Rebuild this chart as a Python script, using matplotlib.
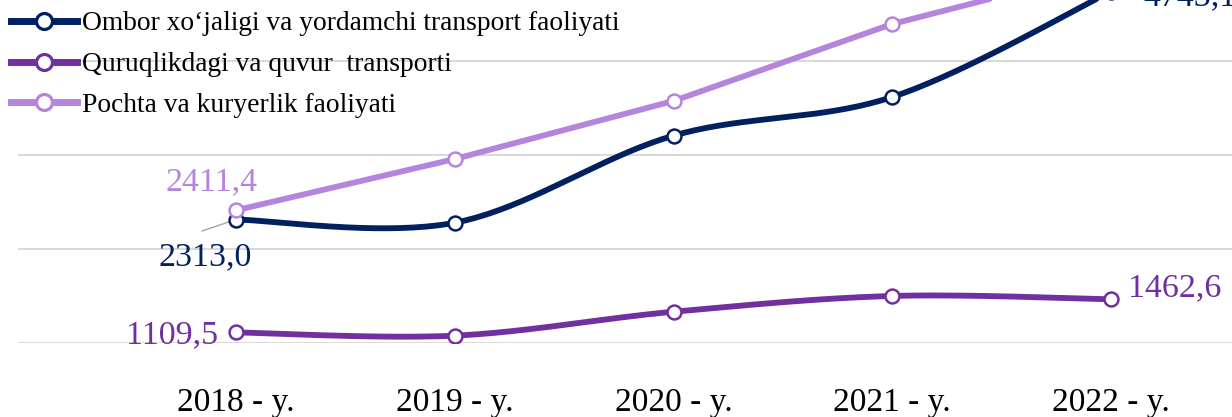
import matplotlib.pyplot as plt
import numpy as np
from matplotlib.lines import Line2D

years = ['2018 - y.', '2019 - y.', '2020 - y.', '2021 - y.', '2022 - y.']
ombor = [2313.0, 2279.0, 3207.0, 3619.0, 4743.1]
quruq = [1109.5, 1075.0, 1330.0, 1498.0, 1462.6]
pochta = [2411.4, 2958.0, 3577.0, 4397.0, 4996.0]

names = ['Ombor xo\u2018jaligi va yordamchi transport faoliyati',
         'Quruqlikdagi va quvur  transporti',
         'Pochta va kuryerlik faoliyati']
colors = ['#002060', '#7030A0', '#B585DD']


def smooth(x, y, n=40):
    # catmull-rom / bezier like excel "smoothed line"
    p = np.column_stack([x, y]).astype(float)
    p = np.vstack([p[0], p, p[-1]])
    out = []
    for i in range(1, len(p) - 2):
        p0, p1, p2, p3 = p[i - 1], p[i], p[i + 1], p[i + 2]
        c1 = p1 + (p2 - p0) / 6
        c2 = p2 - (p3 - p1) / 6
        t = np.linspace(0, 1, n)[:, None]
        seg = (1 - t)**3 * p1 + 3 * (1 - t)**2 * t * c1 + 3 * (1 - t) * t**2 * c2 + t**3 * p2
        out.append(seg)
    out = np.vstack(out)
    return out[:, 0], out[:, 1]


def fmt(v):
    return f'{v:.1f}'.replace('.', ',')


fig = plt.figure(figsize=(12.32, 4.17), dpi=100)
ax = fig.add_axes([0.0146, 0.1782, 0.9854, 0.8218])

x = np.arange(len(years))
series = [(ombor, True), (quruq, True), (pochta, False)]
for (vals, sm), c in zip(series, colors):
    if sm:
        sx, sy = smooth(x, vals)
    else:
        sx, sy = x, vals
    ax.plot(sx, sy, color=c, lw=4.2, solid_capstyle='round', zorder=3)
    ax.plot(x, vals, ls='none', marker='o', ms=10, mfc='white', mec=c, mew=1.8, zorder=4)

ax.set_xlim(-0.9966, 4.553)
ax.set_ylim(1000, 4653)
ax.set_yticks([1000, 2000, 3000, 4000])
ax.set_yticklabels([])
ax.tick_params(axis='y', length=0)
ax.grid(axis='y', color='#D9D9D9', lw=1.4, zorder=0)
ax.set_axisbelow(True)
for s in ax.spines.values():
    s.set_visible(False)
ax.set_xticks(x)
ax.set_xticklabels(years, fontsize=24, family='Liberation Serif', color='black')
ax.tick_params(axis='x', length=0, pad=32)

lab = dict(fontsize=24.5, family='Liberation Serif', textcoords='offset points', annotation_clip=False)
ax.annotate(fmt(pochta[0]), (0, pochta[0]), xytext=(-18, 20), ha='center', va='center', color=colors[2], **lab)
ax.annotate(fmt(ombor[0]), (0, ombor[0]), xytext=(-22, -27), ha='center', va='center', color=colors[0], **lab)
# leader line of the 2313,0 label
ax.annotate('', (0, ombor[0]), xytext=(-24.5, -8.3), textcoords='offset points', zorder=2,
            arrowprops=dict(arrowstyle='-', color='#A6A6A6', lw=1.0, shrinkA=0, shrinkB=0))
# sits partly above the top edge, as in the source picture
ax.annotate(fmt(ombor[-1]), (4, ombor[-1]), xytext=(23, -10), ha='left', va='baseline', color=colors[0], **lab)
ax.annotate(fmt(quruq[0]), (0, quruq[0]), xytext=(-13, -2), ha='right', va='center', color=colors[1], **lab)
ax.annotate(fmt(quruq[-1]), (4, quruq[-1]), xytext=(12, 8), ha='left', va='center', color=colors[1], **lab)

handles = [Line2D([], [], color=c, lw=5, marker='o', ms=11.5, mfc='white', mec=c, mew=2.3) for c in colors]
leg = fig.legend(handles, names, loc='upper left', bbox_to_anchor=(0.0, 1.0), frameon=False,
                 prop={'family': 'Liberation Serif', 'size': 19.8}, handlelength=2.4, handletextpad=0.2,
                 labelspacing=0.57, borderpad=0.1, borderaxespad=0.3)

fig.savefig('out.png', dpi=100)
